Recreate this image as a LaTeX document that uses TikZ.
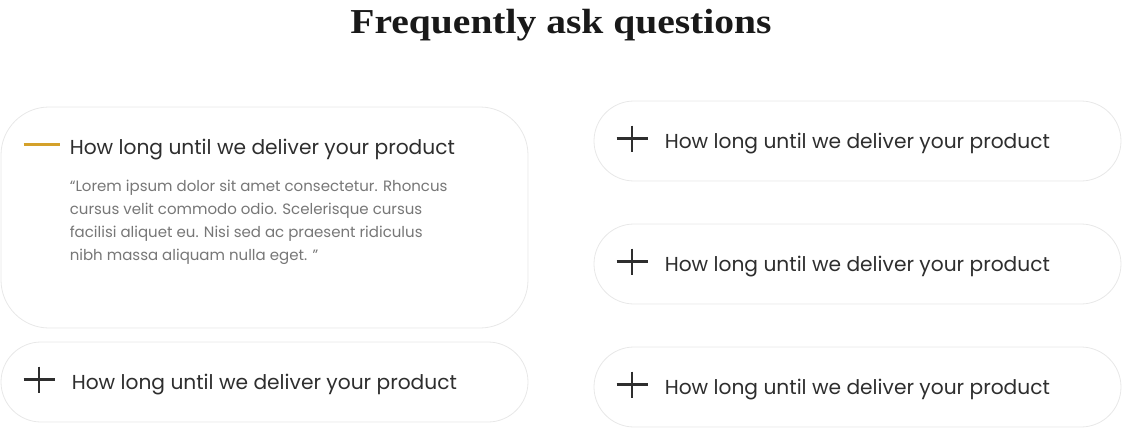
\documentclass[tikz,border=0pt]{standalone}
\usepackage{fontspec}
\setmainfont{Poppins}
\newfontfamily\titlefont[FakeStretch=1.13]{Liberation Serif}
\usetikzlibrary{positioning}
\definecolor{gold}{HTML}{D4A12A}
\definecolor{ink}{HTML}{2E2E2E}
\definecolor{edge}{HTML}{E8E8E8}
\definecolor{muted}{HTML}{777777}

\begin{document}
\begin{tikzpicture}[x=1pt, y=-1pt,
    faqbox/.style={draw=edge, line width=0.8pt, fill=white, rounded corners=40pt,
        minimum width=527pt, minimum height=80pt, inner sep=0pt},
    openbox/.style={faqbox, rounded corners=48pt, minimum height=221pt},
    question/.style={text=ink, font=\fontsize{20.2}{23}\selectfont, inner sep=0pt, anchor=base west},
    answer/.style={text=muted, font=\fontsize{15}{23}\selectfont, inner sep=0pt, align=left, anchor=north west},
    plusicon/.style={ink, line width=2.5pt},
    dashicon/.style={gold, line width=3pt}]
    \useasboundingbox (0,0) rectangle (1122,428);
    \node[font=\titlefont\bfseries\fontsize{35}{40}\selectfont, text=black!90, inner sep=0pt, anchor=base] (title) at (561,34) {Frequently ask questions};

    \node[openbox] (l1) at (264.5,217.5) {};
    \node[faqbox] (l2) at (264.5,382) {};
    \node[faqbox] (r1) at (857.5,141) {};
    \node[faqbox] (r2) at (857.5,264) {};
    \node[faqbox] (r3) at (857.5,387) {};

    \coordinate (d1) at ([xshift=23pt,yshift=73.5pt]l1.west);
    \coordinate (d2) at ([xshift=59pt,yshift=73.5pt]l1.west);
    \draw[dashicon] (d1) -- (d2);
    \node[question] (q1) at ([xshift=69pt,yshift=63.5pt]l1.west) {How long until we deliver your product};
    \node[answer] (a1) at ([xshift=69pt,yshift=37.5pt]l1.west) {“Lorem ipsum dolor sit amet consectetur. Rhoncus\\
        cursus velit commodo odio. Scelerisque cursus\\
        facilisi aliquet eu. Nisi sed ac praesent ridiculus\\
        nibh massa aliquam nulla eget. ”};

    \foreach \b in {l2,r1,r2,r3}{
        \draw[plusicon] ([xshift=23pt,yshift=2.5pt]\b.west) -- ([xshift=54pt,yshift=2.5pt]\b.west);
        \draw[plusicon] ([xshift=38.5pt,yshift=15.5pt]\b.west) -- ([xshift=38.5pt,yshift=-10.5pt]\b.west);
        \node[question] (q\b) at ([xshift=71pt,yshift=-7pt]\b.west) {How long until we deliver your product};
    }
\end{tikzpicture}
\end{document}
